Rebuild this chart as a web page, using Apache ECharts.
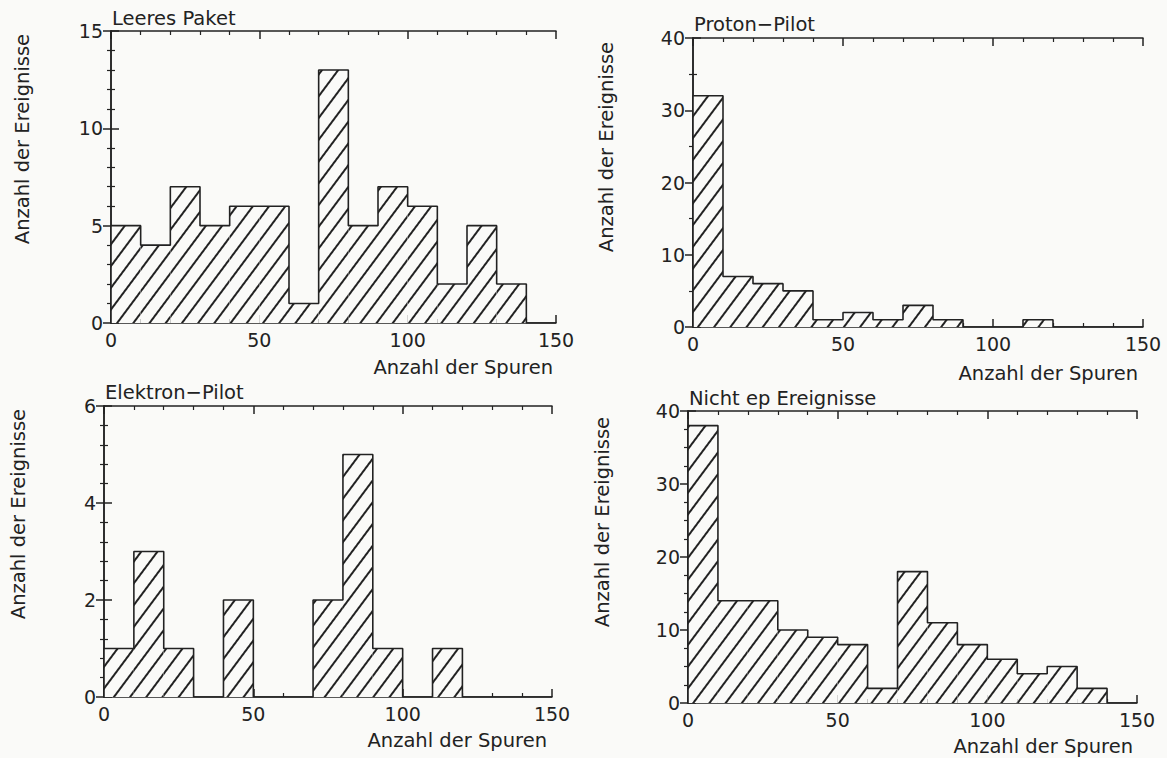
<!DOCTYPE html>
<html>
<head>
<meta charset="utf-8">
<script src="https://cdn.jsdelivr.net/npm/echarts@6/dist/echarts.min.js"></script>
<style>
  html, body { margin: 0; padding: 0; background: #fafaf8; }
  #chart { width: 1167px; height: 758px; }
</style>
</head>
<body>
<div id="chart"></div>
<script>
// ---- data (bins of 10 tracks, 0..150) ----
const binEdges = [0, 10, 20, 30, 40, 50, 60, 70, 80, 90, 100, 110, 120, 130, 140, 150];
const categories = binEdges.slice(0, -1).map((e, i) => e + '-' + binEdges[i + 1]);
const leeresPaket   = [5, 4, 7, 5, 6, 6, 1, 13, 5, 7, 6, 2, 5, 2, 0];
const protonPilot   = [32, 7, 6, 5, 1, 2, 1, 3, 1, 0, 0, 1, 0, 0, 0];
const elektronPilot = [1, 3, 1, 0, 2, 0, 0, 2, 5, 1, 0, 1, 0, 0, 0];
const nichtEp       = [38, 14, 14, 10, 9, 8, 2, 18, 11, 8, 6, 4, 5, 2, 0];
const panelTitles = ['Leeres Paket', 'Proton\u2212Pilot', 'Elektron\u2212Pilot', 'Nicht ep Ereignisse'];
const xAxisName = 'Anzahl der Spuren';
const yAxisName = 'Anzahl der Ereignisse';
const xRange = [0, 150];
const xTickStep = 50;
const yMaxima = [15, 40, 6, 40];
const yTickSteps = [5, 10, 2, 10];
const yMinorSplits = [5, 2, 5, 4];

// ---- layout / style ----
const INK = '#222';
const BG = '#fafaf8';
const FONT = 'DejaVu Sans';
const layouts = [
  { grid: { left: 111, top: 31, width: 445, height: 292 }, title: [112, 18], xName: [553, 367], yName: [22, 139] },
  { grid: { left: 693, top: 38, width: 450, height: 289 }, title: [694, 24], xName: [1138, 373], yName: [606, 147] },
  { grid: { left: 104, top: 406, width: 448, height: 291 }, title: [105, 392], xName: [547, 740], yName: [18, 514] },
  { grid: { left: 688, top: 411, width: 449, height: 292 }, title: [689, 398], xName: [1133, 746], yName: [602, 522] }
];
const seriesData = [leeresPaket, protonPilot, elektronPilot, nichtEp];

const grids = [], xAxes = [], yAxes = [], series = [], graphics = [];
const lineStyle = { color: INK, width: 1.5 };
const labelStyle = { color: INK, fontFamily: FONT, fontSize: 19 };

function tickAxis(extra) {
  return Object.assign({
    type: 'value',
    axisLine: { show: true, lineStyle }, splitLine: { show: false },
    axisTick: { show: true, inside: true, length: 8, lineStyle },
    axisLabel: { show: false }
  }, extra);
}

seriesData.forEach((data, i) => {
  const L = layouts[i];
  grids.push(Object.assign({ containLabel: false }, L.grid));
  const xMinor = { show: true, splitNumber: 5, length: 4, lineStyle: { color: INK, width: 1.2 } };
  const yMinor = { show: true, splitNumber: yMinorSplits[i], length: 4, lineStyle: { color: INK, width: 1.2 } };
  // hidden category axis carrying the histogram bins
  xAxes.push({ gridIndex: i, type: 'category', data: categories, show: false, boundaryGap: true });
  // visible value axis, bottom
  xAxes.push(tickAxis({ gridIndex: i, min: xRange[0], max: xRange[1], interval: xTickStep, position: 'bottom',
    minorTick: xMinor, axisLabel: Object.assign({ show: true, margin: 7 }, labelStyle) }));
  // mirror axis, top
  xAxes.push(tickAxis({ gridIndex: i, min: xRange[0], max: xRange[1], interval: xTickStep, position: 'top',
    minorTick: xMinor }));
  yAxes.push(tickAxis({ gridIndex: i, min: 0, max: yMaxima[i], interval: yTickSteps[i], position: 'left',
    minorTick: yMinor, axisLabel: Object.assign({ show: true, margin: 8 }, labelStyle) }));
  yAxes.push(tickAxis({ gridIndex: i, min: 0, max: yMaxima[i], interval: yTickSteps[i], position: 'right',
    minorTick: yMinor }));
  // hatched fill of the bins
  series.push({
    type: 'bar', xAxisIndex: 3 * i, yAxisIndex: 2 * i, data: data,
    barCategoryGap: '0%', barGap: '0%',
    itemStyle: {
      color: BG, borderWidth: 0,
      decal: { symbol: 'rect', symbolSize: 1, dashArrayX: [1, 0], dashArrayY: [1.3, 10.7], rotation: -0.93, color: INK }
    },
    emphasis: { disabled: true }, silent: true, animation: false, z: 2
  });
  // step outline of the histogram
  const outline = [[binEdges[0], 0]];
  data.forEach((v, k) => outline.push([binEdges[k], v]));
  outline.push([binEdges[binEdges.length - 1], 0]);
  series.push({
    type: 'line', xAxisIndex: 3 * i + 1, yAxisIndex: 2 * i, data: outline, step: 'end',
    symbol: 'none', lineStyle: { color: INK, width: 1.6 }, silent: true, animation: false, z: 3
  });
  graphics.push({ type: 'text', x: L.title[0], y: L.title[1],
    style: { text: panelTitles[i], fill: INK, fontFamily: FONT, fontSize: 19.5, align: 'left', verticalAlign: 'middle' } });
  graphics.push({ type: 'text', x: L.xName[0], y: L.xName[1],
    style: { text: xAxisName, fill: INK, fontFamily: FONT, fontSize: 19.5, align: 'right', verticalAlign: 'middle' } });
  graphics.push({ type: 'text', x: L.yName[0], y: L.yName[1], rotation: Math.PI / 2,
    style: { text: yAxisName, fill: INK, fontFamily: FONT, fontSize: 19.5, align: 'center', verticalAlign: 'middle' } });
});

const chart = echarts.init(document.getElementById('chart'), null, { renderer: 'svg' });
chart.setOption({
  backgroundColor: BG,
  animation: false,
  grid: grids,
  xAxis: xAxes,
  yAxis: yAxes,
  series: series,
  graphic: graphics
});
</script>
</body>
</html>
